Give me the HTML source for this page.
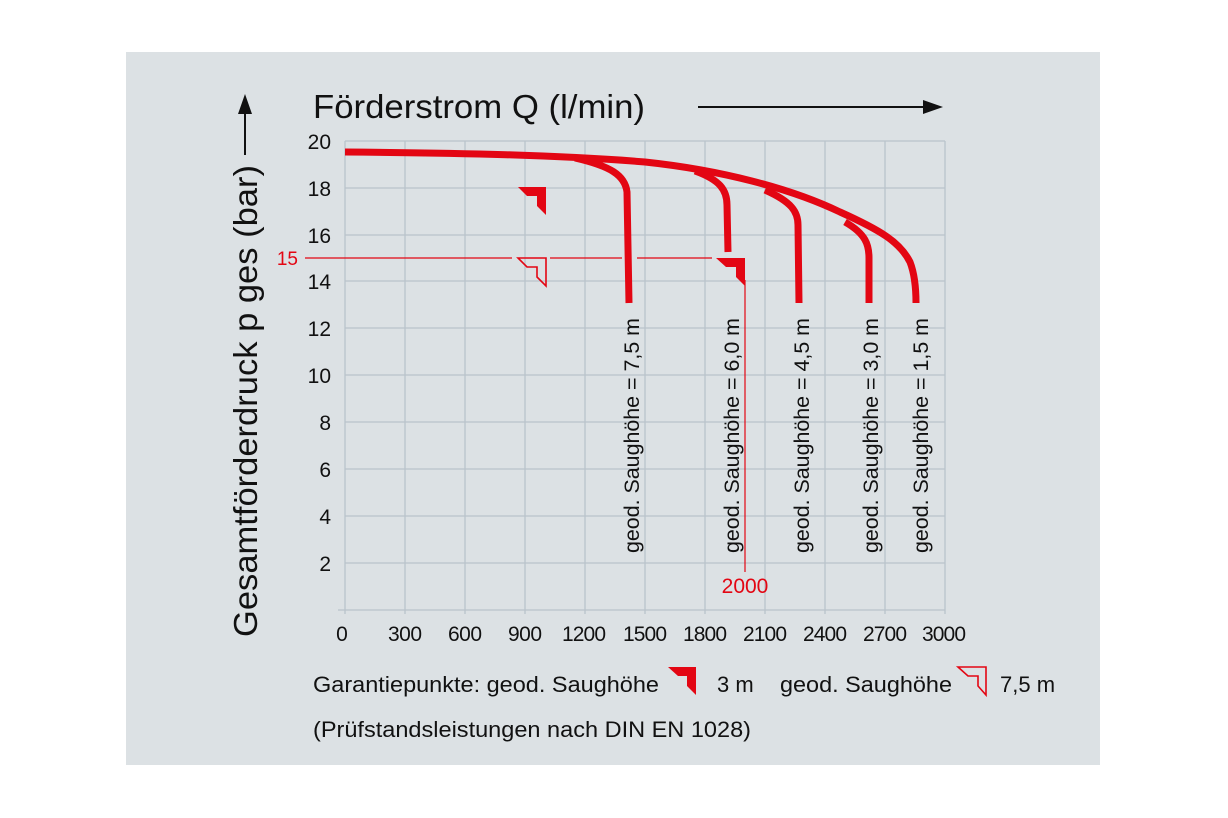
<!DOCTYPE html>
<html><head><meta charset="utf-8"><style>
html,body{margin:0;padding:0;background:#fff;}
svg{display:block;font-family:"Liberation Sans",sans-serif;}
</style></head><body>
<svg width="1228" height="818" viewBox="0 0 1228 818">
<rect x="126" y="52" width="974" height="713" fill="#dce1e4"/>
<g stroke="#b9c3cb" stroke-width="1.3">
<line x1="345" y1="141" x2="945" y2="141"/>
<line x1="345" y1="188" x2="945" y2="188"/>
<line x1="345" y1="235" x2="945" y2="235"/>
<line x1="345" y1="281" x2="945" y2="281"/>
<line x1="345" y1="328" x2="945" y2="328"/>
<line x1="345" y1="375" x2="945" y2="375"/>
<line x1="345" y1="422" x2="945" y2="422"/>
<line x1="345" y1="469" x2="945" y2="469"/>
<line x1="345" y1="516" x2="945" y2="516"/>
<line x1="345" y1="563" x2="945" y2="563"/>
<line x1="338" y1="610" x2="945" y2="610"/>
<line x1="345" y1="141" x2="345" y2="614"/>
<line x1="405" y1="141" x2="405" y2="614"/>
<line x1="465" y1="141" x2="465" y2="614"/>
<line x1="525" y1="141" x2="525" y2="614"/>
<line x1="585" y1="141" x2="585" y2="614"/>
<line x1="645" y1="141" x2="645" y2="614"/>
<line x1="705" y1="141" x2="705" y2="614"/>
<line x1="765" y1="141" x2="765" y2="614"/>
<line x1="825" y1="141" x2="825" y2="614"/>
<line x1="885" y1="141" x2="885" y2="614"/>
<line x1="945" y1="141" x2="945" y2="614"/>
</g>
<g font-size="21" fill="#111" text-anchor="end">
<text x="331" y="149">20</text><text x="331" y="196">18</text><text x="331" y="243">16</text>
<text x="331" y="289">14</text><text x="331" y="336">12</text><text x="331" y="383">10</text>
<text x="331" y="430">8</text><text x="331" y="477">6</text><text x="331" y="524">4</text>
<text x="331" y="571">2</text>
</g>
<g font-size="21" fill="#111" text-anchor="middle" lengthAdjust="spacingAndGlyphs">
<text x="342" y="641">0</text><text x="405" y="641" textLength="34">300</text><text x="465" y="641" textLength="34">600</text>
<text x="525" y="641" textLength="34">900</text><text x="584" y="641" textLength="44">1200</text><text x="645" y="641" textLength="44">1500</text>
<text x="705" y="641" textLength="44">1800</text><text x="765" y="641" textLength="44">2100</text><text x="825" y="641" textLength="44">2400</text>
<text x="885" y="641" textLength="44">2700</text><text x="944" y="641" textLength="44">3000</text>
</g>
<g stroke="#e30613" stroke-width="1.2">
<line x1="305" y1="258" x2="512" y2="258"/>
<line x1="550" y1="258" x2="622" y2="258"/>
<line x1="637" y1="258" x2="712" y2="258"/>
<line x1="745" y1="280" x2="745" y2="572"/>
</g>
<text x="298" y="265" font-size="19" fill="#e30613" text-anchor="end">15</text>
<text x="745" y="593" font-size="21" fill="#e30613" text-anchor="middle">2000</text>
<g fill="none" stroke="#e30613" stroke-width="7">
<path d="M345 152 C460 153 560 155 645 162 C720 170 790 188 840 212 C880 230 900 242 910 262 C915 275 916 290 916 303"/>
<path d="M575 158 C610 166 625 175 627 192 L629 303"/>
<path d="M695 171 C720 180 727 190 727 205 L728 252"/>
<path d="M765 190 C792 202 798 212 798 225 L799 303"/>
<path d="M845 222 C866 234 869 245 869 258 L869 303"/>
</g>
<polygon points="518,187 546,187 546,215 537,206 537,196 527,196" fill="#e30613"/>
<polygon points="518,258 546,258 546,286 537,277 537,267 527,267" fill="none" stroke="#e30613" stroke-width="1.6"/>
<polygon points="716,258 745,258 745,286 736,277 736,267 726,267" fill="#e30613"/>
<g font-size="21" fill="#111">
<text transform="translate(639,553) rotate(-90)" textLength="235" lengthAdjust="spacingAndGlyphs">geod. Saughöhe = 7,5 m</text>
<text transform="translate(739,553) rotate(-90)" textLength="235" lengthAdjust="spacingAndGlyphs">geod. Saughöhe = 6,0 m</text>
<text transform="translate(809,553) rotate(-90)" textLength="235" lengthAdjust="spacingAndGlyphs">geod. Saughöhe = 4,5 m</text>
<text transform="translate(878,553) rotate(-90)" textLength="235" lengthAdjust="spacingAndGlyphs">geod. Saughöhe = 3,0 m</text>
<text transform="translate(928,553) rotate(-90)" textLength="235" lengthAdjust="spacingAndGlyphs">geod. Saughöhe = 1,5 m</text>
</g>
<text x="313" y="118" font-size="33" fill="#111" textLength="332" lengthAdjust="spacingAndGlyphs">Förderstrom Q (l/min)</text>
<line x1="698" y1="107" x2="925" y2="107" stroke="#111" stroke-width="2"/>
<polygon points="943,107 923,100 923,114" fill="#111"/>
<text transform="translate(257,637) rotate(-90)" font-size="33" fill="#111" textLength="472" lengthAdjust="spacingAndGlyphs">Gesamtförderdruck p ges (bar)</text>
<line x1="245" y1="155" x2="245" y2="112" stroke="#111" stroke-width="2"/>
<polygon points="245,94 238,114 252,114" fill="#111"/>
<text x="313" y="692" font-size="22" fill="#111" textLength="346" lengthAdjust="spacingAndGlyphs">Garantiepunkte: geod. Saughöhe</text>
<polygon points="668,667 696,667 696,695 687,686 687,676 678,676" fill="#e30613"/>
<text x="717" y="692" font-size="22" fill="#111">3 m</text>
<text x="780" y="692" font-size="22" fill="#111" textLength="172" lengthAdjust="spacingAndGlyphs">geod. Saughöhe</text>
<polygon points="958,667 986,667 986,695 978,686 978,676 968,676" fill="none" stroke="#e30613" stroke-width="1.6"/>
<text x="1000" y="692" font-size="22" fill="#111">7,5 m</text>
<text x="313" y="737" font-size="22" fill="#111" textLength="438" lengthAdjust="spacingAndGlyphs">(Prüfstandsleistungen nach DIN EN 1028)</text>
</svg>
</body></html>
